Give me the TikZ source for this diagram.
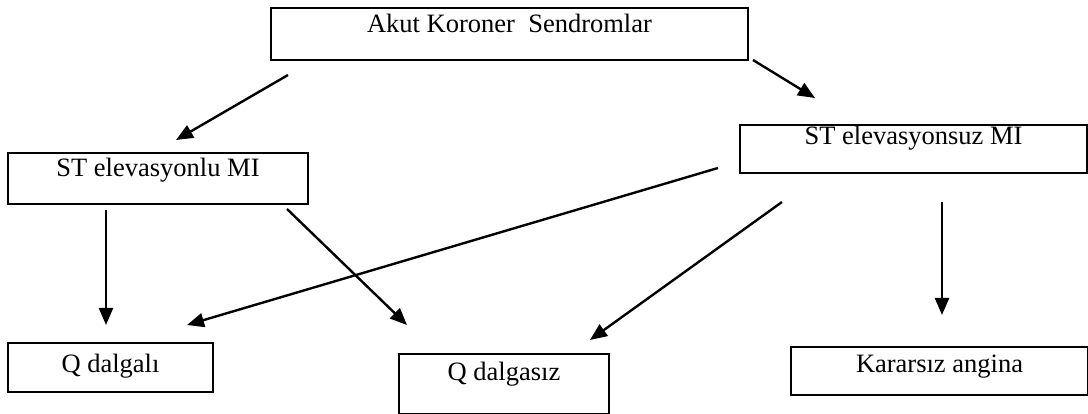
\documentclass[tikz,border=0pt]{standalone}
\usepackage{fontspec}
\setmainfont{Liberation Serif}
\usepackage{tikz}
\usetikzlibrary{arrows.meta}
\tikzstyle{box}=[draw,line width=2.6pt,inner sep=0pt,outer sep=0pt,anchor=north west,font=\fontsize{26.5}{30}\selectfont]
\tikzstyle{arr}=[line width=2.4pt,-{Triangle[length=17pt,width=14pt]}]

\begin{document}
\begin{tikzpicture}[x=1pt,y=-1pt]
        \useasboundingbox (0,0) rectangle (1088,414);
        \node at (271,8) [box,minimum width=477pt,text height=25pt,text depth=27pt] (akut) {Akut Koroner~~Sendromlar};
        \node at (8,153) [box,minimum width=300pt,text height=24pt,text depth=27pt] (elevli) {ST elevasyonlu MI};
        \node at (740,125) [box,minimum width=347pt,text height=20pt,text depth=28pt] (elevsuz) {ST elevasyonsuz MI};
        \node at (8,343) [box,minimum width=205pt,text height=29pt,text depth=20pt] (qdalgali) {Q dalgalı};
        \node at (399,354) [box,minimum width=210pt,text height=26pt,text depth=34pt] (qdalgasiz) {Q dalgasız};
        \node at (791,347) [box,minimum width=297pt,text height=26pt,text depth=22pt] (kararsiz) {Kararsız angina};
        \draw [arr] ([shift={(17,15)}]akut.south west) to ([shift={(168,-13)}]elevli.north west);
        \draw [arr] ([shift={(5,0)}]akut.south east) to ([shift={(75,-27)}]elevsuz.north west);
        \draw [arr] ([shift={(98,6)}]elevli.south west) to ([shift={(98,-18)}]qdalgali.north west);
        \draw [arr] ([shift={(279,5)}]elevli.south west) to ([shift={(8,-29)}]qdalgasiz.north west);
        \draw [arr] ([shift={(-22,-5)}]elevsuz.south west) to ([shift={(179,-18)}]qdalgali.north west);
        \draw [arr] ([shift={(42,29)}]elevsuz.south west) to ([shift={(191,-14)}]qdalgasiz.north west);
        \draw [arr] ([shift={(202,29)}]elevsuz.south west) to ([shift={(151,-32)}]kararsiz.north west);
      \end{tikzpicture}
\end{document}
